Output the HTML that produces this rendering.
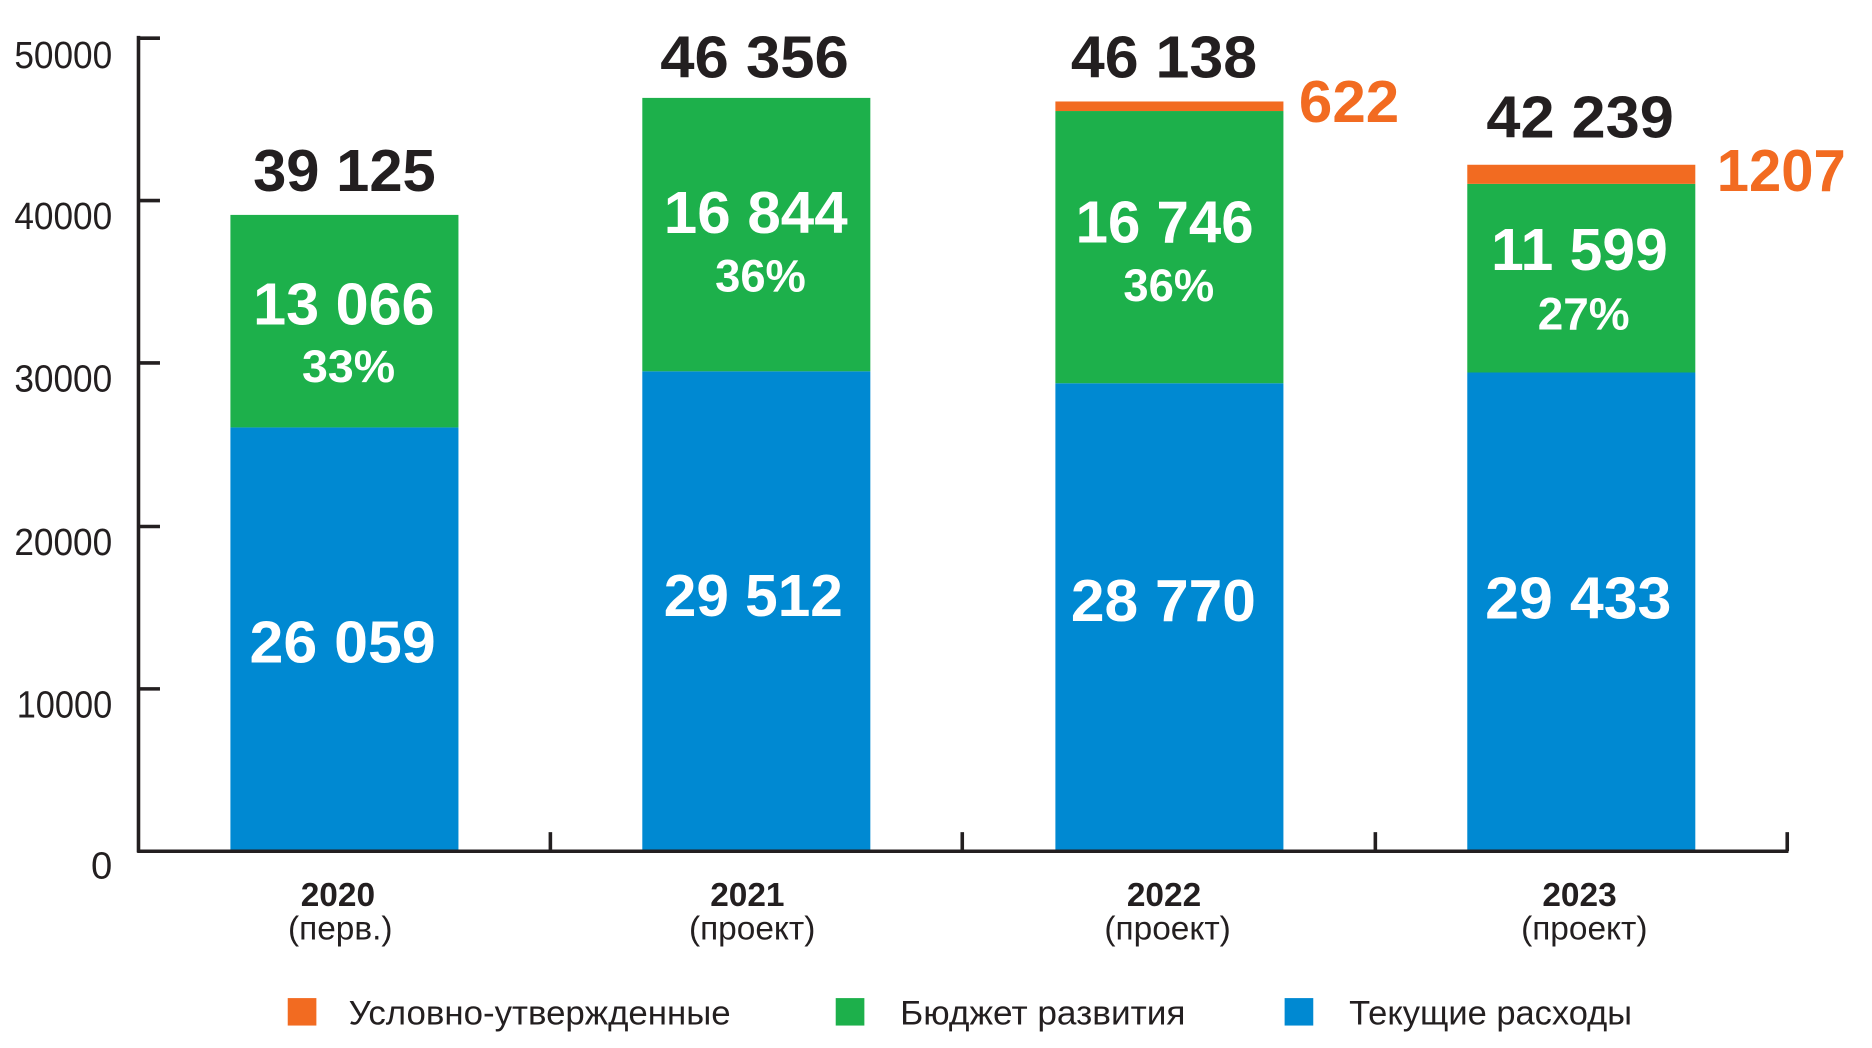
<!DOCTYPE html>
<html><head><meta charset="utf-8"><style>
html,body{margin:0;padding:0;background:#fff;width:1872px;height:1048px;overflow:hidden}
svg{display:block}
text{font-family:"Liberation Sans Narrow","Liberation Sans",sans-serif}
</style></head><body>
<svg width="1872" height="1048" viewBox="0 0 1568 877.8" preserveAspectRatio="none">
<g>
<rect x="193" y="358" width="191" height="355" fill="#0089d2"/>
<rect x="193" y="180" width="191" height="178" fill="#1db04b"/>
<rect x="538" y="311" width="191" height="402" fill="#0089d2"/>
<rect x="538" y="82" width="191" height="229" fill="#1db04b"/>
<rect x="884" y="321" width="191" height="392" fill="#0089d2"/>
<rect x="884" y="93" width="191" height="228" fill="#1db04b"/>
<rect x="884" y="85" width="191" height="8" fill="#f26b21"/>
<rect x="1229" y="312" width="191" height="401" fill="#0089d2"/>
<rect x="1229" y="154" width="191" height="158" fill="#1db04b"/>
<rect x="1229" y="138" width="191" height="16" fill="#f26b21"/>
</g>
<g stroke="#231f20" stroke-width="3" fill="none">
<line x1="116" y1="30" x2="116" y2="714"/>
<line x1="115" y1="713" x2="1498" y2="713"/>
<line x1="116" y1="32" x2="134" y2="32"/>
<line x1="116" y1="168" x2="134" y2="168"/>
<line x1="116" y1="304" x2="134" y2="304"/>
<line x1="116" y1="441" x2="134" y2="441"/>
<line x1="116" y1="577" x2="134" y2="577"/>
<line x1="461" y1="697" x2="461" y2="713"/>
<line x1="806" y1="697" x2="806" y2="713"/>
<line x1="1152" y1="697" x2="1152" y2="713"/>
<line x1="1497" y1="697" x2="1497" y2="713"/>
</g>
<g fill="#231f20" font-size="32" text-anchor="end">
<text x="94" y="57" textLength="82" lengthAdjust="spacingAndGlyphs">50000</text>
<text x="94" y="192" textLength="82" lengthAdjust="spacingAndGlyphs">40000</text>
<text x="94" y="328" textLength="82" lengthAdjust="spacingAndGlyphs">30000</text>
<text x="94" y="465" textLength="82" lengthAdjust="spacingAndGlyphs">20000</text>
<text x="94" y="601" textLength="80" lengthAdjust="spacingAndGlyphs">10000</text>
<text x="94" y="736">0</text>
</g>
<g fill="#231f20" font-size="50" font-weight="bold">
<text x="212" y="160" textLength="153" lengthAdjust="spacingAndGlyphs">39 125</text>
<text x="553" y="65" textLength="158" lengthAdjust="spacingAndGlyphs">46 356</text>
<text x="897" y="65" textLength="156" lengthAdjust="spacingAndGlyphs">46 138</text>
<text x="1245" y="115" textLength="157" lengthAdjust="spacingAndGlyphs">42 239</text>
</g>
<g fill="#f26b21" font-size="50" font-weight="bold">
<text x="1088" y="102" textLength="84" lengthAdjust="spacingAndGlyphs">622</text>
<text x="1438" y="160" textLength="108" lengthAdjust="spacingAndGlyphs">1207</text>
</g>
<g fill="#fff" font-weight="bold">
<g font-size="50">
<text x="212" y="272" textLength="152" lengthAdjust="spacingAndGlyphs">13 066</text>
<text x="556" y="195" textLength="154" lengthAdjust="spacingAndGlyphs">16 844</text>
<text x="901" y="203" textLength="149" lengthAdjust="spacingAndGlyphs">16 746</text>
<text x="1249" y="226" textLength="148" lengthAdjust="spacingAndGlyphs">11 599</text>
<text x="209" y="555" textLength="156" lengthAdjust="spacingAndGlyphs">26 059</text>
<text x="556" y="516" textLength="150" lengthAdjust="spacingAndGlyphs">29 512</text>
<text x="897" y="520" textLength="155" lengthAdjust="spacingAndGlyphs">28 770</text>
<text x="1244" y="518" textLength="156" lengthAdjust="spacingAndGlyphs">29 433</text>
</g>
<g font-size="38">
<text x="253" y="320" textLength="78" lengthAdjust="spacingAndGlyphs">33%</text>
<text x="599" y="244" textLength="76" lengthAdjust="spacingAndGlyphs">36%</text>
<text x="941" y="252" textLength="76" lengthAdjust="spacingAndGlyphs">36%</text>
<text x="1288" y="276" textLength="77" lengthAdjust="spacingAndGlyphs">27%</text>
</g>
</g>
<g fill="#231f20" font-size="28" text-anchor="middle">
<text x="283" y="759" font-weight="bold">2020</text>
<text x="285" y="787">(перв.)</text>
<text x="626" y="759" font-weight="bold">2021</text>
<text x="630" y="787">(проект)</text>
<text x="975" y="759" font-weight="bold">2022</text>
<text x="978" y="787">(проект)</text>
<text x="1323" y="759" font-weight="bold">2023</text>
<text x="1327" y="787">(проект)</text>
</g>
<rect x="241" y="836" width="24" height="23" fill="#f26b21"/>
<rect x="700" y="836" width="24" height="23" fill="#1db04b"/>
<rect x="1076" y="836" width="24" height="23" fill="#0089d2"/>
<g fill="#231f20" font-size="29">
<text x="292" y="858" textLength="320" lengthAdjust="spacingAndGlyphs">Условно-утвержденные</text>
<text x="754" y="858" textLength="239" lengthAdjust="spacingAndGlyphs">Бюджет развития</text>
<text x="1130" y="858" textLength="237" lengthAdjust="spacingAndGlyphs">Текущие расходы</text>
</g>
</svg>
</body></html>
